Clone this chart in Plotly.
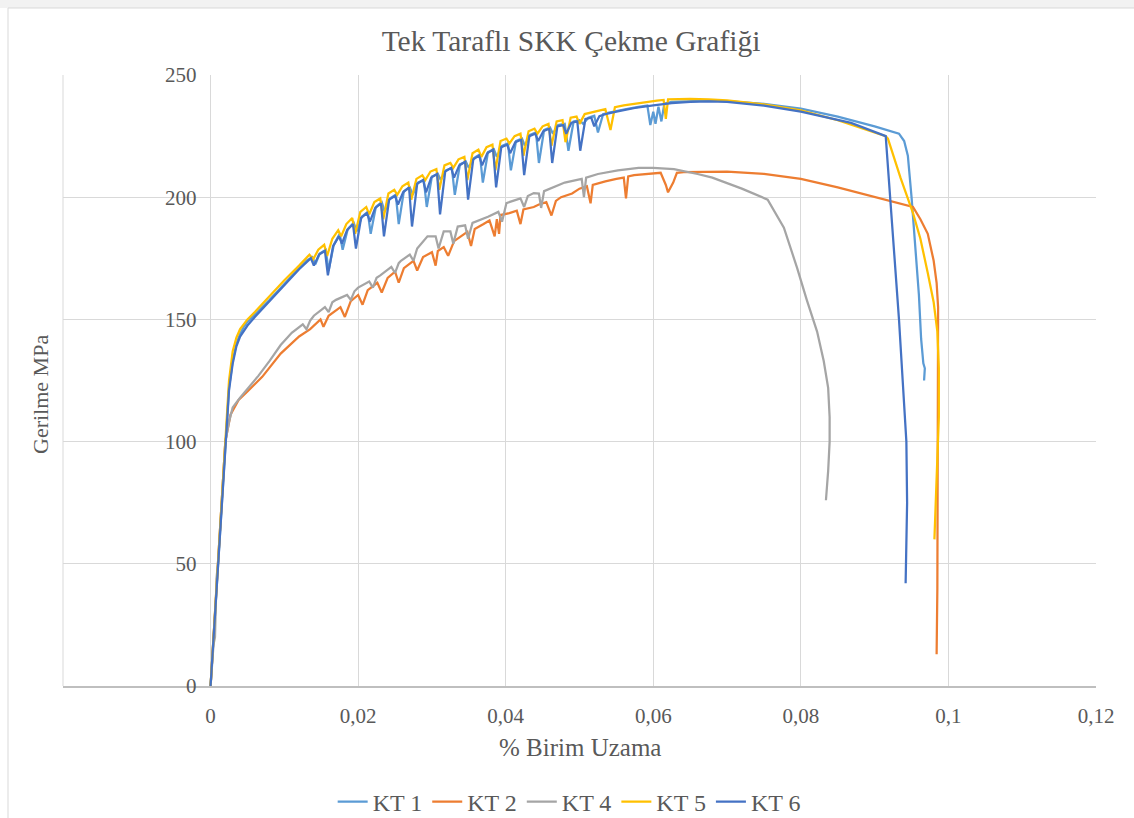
import plotly.graph_objects as go

# Tensile test curves: strain (% Birim Uzama) vs stress (Gerilme, MPa)
kt1_strain = [0, 0.0005, 0.001, 0.0015, 0.002, 0.0025, 0.003, 0.0035, 0.004, 0.0045, 0.005, 0.006, 0.008, 0.010, 0.0115,
              0.013, 0.0138, 0.0142, 0.0148, 0.0156, 0.016, 0.0167, 0.0175, 0.0179, 0.0186, 0.0194, 0.0198, 0.0205, 0.0213,
              0.0217, 0.0224, 0.0232, 0.0236, 0.0243, 0.0251, 0.0255, 0.0262, 0.027, 0.0274, 0.0281, 0.0289, 0.0293, 0.03,
              0.0308, 0.0312, 0.0319, 0.0327, 0.0331, 0.0338, 0.0346, 0.035, 0.0357, 0.0365, 0.0369, 0.0376, 0.0384, 0.0388,
              0.0395, 0.0403, 0.0407, 0.0414, 0.0422, 0.0426, 0.0433, 0.0441, 0.0445, 0.0452, 0.046, 0.0464, 0.0471, 0.048,
              0.0485, 0.0492, 0.05, 0.0505, 0.0512, 0.052, 0.0525, 0.0532, 0.054, 0.055, 0.0565, 0.058, 0.0592, 0.0596, 0.06,
              0.0603, 0.0607, 0.0611, 0.0615, 0.0625, 0.065, 0.0675, 0.07, 0.075, 0.08, 0.085, 0.09, 0.0933, 0.094, 0.0945,
              0.095, 0.0955, 0.096, 0.0963, 0.0966, 0.0968, 0.0967]
kt1_stress = [0, 25, 50, 75, 100, 122, 133, 140, 144, 147, 149, 152, 158, 164.5, 169.5,
              174, 175.5, 172.5, 177, 178.5, 170, 180.5, 185, 178.5, 187, 189.5, 186, 192, 194,
              185, 196, 198, 194, 199.5, 201, 189, 202.5, 204, 201, 206, 207, 196, 208.5,
              209.5, 207, 211, 212, 201, 213.5, 214.5, 212, 216, 217.5, 206, 218.5, 219.5, 216.5,
              221, 222, 211, 223, 224, 221, 225.5, 226.5, 214, 227.5, 228.5, 226, 229.5, 230,
              219, 231, 231.5, 230, 232.5, 233.3, 226.5, 234, 234.6, 235.3, 236.2, 237, 237.5, 229.5, 235,
              230, 237, 231, 238.3, 239, 239.4, 239.5, 239.3, 238.2, 236.2, 233, 229, 226, 223, 217,
              200, 180, 160, 142, 132, 130, 125]

kt2_strain = [0, 0.0005, 0.001, 0.0015, 0.002, 0.0027, 0.0038, 0.005, 0.007, 0.0095, 0.012, 0.0135, 0.0149, 0.0153,
              0.016, 0.0176, 0.0182, 0.019, 0.02, 0.0206, 0.0213, 0.0226, 0.0232, 0.024, 0.025, 0.0255, 0.0262, 0.0275,
              0.028, 0.0288, 0.03, 0.0305, 0.0308, 0.0316, 0.0322, 0.033, 0.034, 0.0348, 0.0353, 0.0358, 0.037, 0.0378,
              0.0385, 0.0388, 0.0391, 0.0393, 0.0405, 0.0415, 0.042, 0.0424, 0.0438, 0.0445, 0.0455, 0.0462, 0.0468,
              0.0475, 0.049, 0.05, 0.051, 0.0515, 0.0518, 0.0535, 0.055, 0.056, 0.0563, 0.0566, 0.0574, 0.059, 0.061,
              0.0617, 0.062, 0.0627, 0.0632, 0.0641, 0.07, 0.075, 0.08, 0.085, 0.09, 0.0926, 0.0952, 0.0962, 0.0972,
              0.098, 0.0984, 0.0986, 0.0986, 0.0986, 0.0985, 0.0984]
kt2_stress = [0, 24, 50, 75, 100, 111, 117, 120.5, 126.5, 136, 143, 146, 150, 147,
              151.5, 155, 151, 157.5, 160, 156, 162, 165, 161, 167, 169.5, 165, 171, 174,
              170, 175.5, 177.5, 172, 178, 179.6, 176, 182, 184, 185.8, 180, 187, 189, 190.5,
              184, 191, 185, 192.7, 193.5, 194.5, 189, 195, 196, 197, 198, 192.5, 198.5,
              200, 201.5, 203.5, 204.5, 197.5, 205, 206.5, 207.5, 208, 199.5, 208.5, 209, 209.5, 210,
              205, 202, 206, 210, 210.3, 210.5, 209.5, 207.5, 204, 200, 198, 196, 191, 185,
              174, 165, 155, 120, 80, 40, 13]

kt4_strain = [0, 0.0002, 0.0004, 0.0006, 0.0007, 0.0008, 0.001, 0.0015, 0.002, 0.0025, 0.003, 0.004, 0.005, 0.0065,
              0.008, 0.0095, 0.011, 0.0125, 0.013, 0.0135, 0.014, 0.0155, 0.016, 0.0165, 0.017, 0.0185, 0.019, 0.0195,
              0.02, 0.0215, 0.022, 0.0225, 0.023, 0.0245, 0.025, 0.0255, 0.0258, 0.027, 0.0275, 0.028, 0.0294, 0.0305,
              0.0309, 0.0316, 0.0325, 0.0329, 0.0335, 0.0345, 0.0349, 0.0355, 0.0376, 0.039, 0.0395, 0.0401, 0.042,
              0.0425, 0.043, 0.0438, 0.0445, 0.0448, 0.0452, 0.0465, 0.048, 0.0503, 0.0506, 0.0509, 0.0525, 0.0552,
              0.058, 0.06, 0.0628, 0.066, 0.068, 0.072, 0.0755, 0.0777, 0.0795, 0.0808, 0.0822, 0.0831, 0.0837, 0.0839,
              0.0839, 0.0837, 0.0835, 0.0834]
kt4_stress = [0, 10, 17, 20, 30, 44, 50, 75, 100, 108, 114, 118, 121.5, 127,
              133, 139.5, 144.5, 148, 146, 149.5, 151.5, 155, 153, 157, 158, 160, 158, 161.5,
              163, 165.5, 163, 167, 168, 171.5, 169, 173, 174, 176.5, 174, 179, 184, 184,
              179, 186, 186, 181, 188, 188.5, 183, 189.5, 192, 194, 190, 197.6, 199.5,
              196, 200.5, 201.7, 201.5, 195.6, 202.5, 204, 206, 207.5, 200, 208, 209.5, 211,
              212, 212, 211.5, 209.5, 208, 203.5, 199, 187.5, 171, 158, 145, 133, 122, 110,
              100, 88, 80, 76]

kt5_strain = [0, 0.0005, 0.001, 0.0015, 0.002, 0.0025, 0.003, 0.0035, 0.004, 0.005, 0.006, 0.008, 0.01, 0.012,
              0.0134, 0.0139, 0.0146, 0.0154, 0.0158, 0.0165, 0.0173, 0.0177, 0.0184, 0.0192, 0.0196, 0.0203, 0.0211,
              0.0215, 0.0222, 0.023, 0.0234, 0.0241, 0.0249, 0.0253, 0.026, 0.0268, 0.0272, 0.0279, 0.0287, 0.0291,
              0.0298, 0.0306, 0.031, 0.0317, 0.0325, 0.0329, 0.0336, 0.0344, 0.0348, 0.0355, 0.0363, 0.0367, 0.0374,
              0.0382, 0.0386, 0.0393, 0.0401, 0.0405, 0.0412, 0.042, 0.0424, 0.0431, 0.0439, 0.0443, 0.045, 0.0458,
              0.0462, 0.0469, 0.0477, 0.0481, 0.0488, 0.0496, 0.05, 0.0507, 0.0515, 0.0525, 0.0535, 0.0542, 0.0548,
              0.056, 0.0575, 0.059, 0.0605, 0.0614, 0.0617, 0.062, 0.065, 0.0675, 0.07, 0.075, 0.08, 0.085, 0.0915,
              0.0918, 0.0935, 0.0952, 0.0962, 0.0972, 0.098, 0.0985, 0.0987, 0.0987, 0.0985, 0.0982, 0.0981]
kt5_stress = [0, 25, 50, 76, 102, 125, 137, 142.5, 146, 150, 153, 159.5, 166, 172,
              176.5, 174.5, 178.5, 180.5, 176, 183, 186.5, 184, 189, 191.5, 185, 194, 196,
              193, 198, 199.5, 191, 201.5, 203, 201, 204.5, 206, 199, 207.5, 209, 207,
              210.5, 211.5, 203, 213, 214, 212, 215.5, 216.5, 207, 218, 219.5, 216.5, 220.5,
              221.5, 211, 223, 224, 222, 225, 226, 217, 227, 228, 226, 229, 230,
              221, 231, 231.5, 222.5, 232.5, 233, 230, 234, 234.6, 235.3, 236, 227.5, 236.8,
              237.6, 238.3, 239, 239.5, 239.8, 232, 240, 240.2, 240, 239.6, 238, 235.5, 231.5, 225,
              224, 208, 193.5, 183, 169, 157, 145, 130, 110, 90, 70, 60]

kt6_strain = [0, 0.0005, 0.001, 0.0015, 0.002, 0.0025, 0.003, 0.0035, 0.004, 0.005, 0.006, 0.008, 0.01, 0.012,
              0.0136, 0.014, 0.0147, 0.0155, 0.0159, 0.0166, 0.0174, 0.0178, 0.0185, 0.0193, 0.0197, 0.0204, 0.0212,
              0.0216, 0.0223, 0.0231, 0.0235, 0.0242, 0.025, 0.0254, 0.0261, 0.0269, 0.0273, 0.028, 0.0288, 0.0292,
              0.0299, 0.0307, 0.0311, 0.0318, 0.0326, 0.033, 0.0337, 0.0345, 0.0349, 0.0356, 0.0364, 0.0368, 0.0375,
              0.0383, 0.0387, 0.0394, 0.0402, 0.0406, 0.0413, 0.0421, 0.0425, 0.0432, 0.044, 0.0444, 0.0451, 0.0459,
              0.0463, 0.047, 0.0478, 0.0482, 0.0489, 0.0497, 0.0501, 0.0508, 0.0516, 0.052, 0.0527, 0.0535, 0.055,
              0.0575, 0.06, 0.0625, 0.065, 0.0675, 0.07, 0.075, 0.08, 0.0868, 0.0915, 0.092, 0.0925, 0.093, 0.0933,
              0.0938, 0.0943, 0.0944, 0.0943, 0.0942]
kt6_stress = [0, 25, 50, 75, 100, 121, 132, 139, 143, 147.5, 151, 157.5, 164, 170.5,
              175, 172, 176.5, 178, 168, 180, 184, 181, 186.5, 189, 179, 191.5, 193.5,
              190, 195.5, 197.5, 184, 199, 200.5, 197, 202, 204, 188, 205.5, 207, 202,
              208, 209.5, 193, 210.5, 212, 208, 213, 214.5, 199, 215.5, 217, 213, 218,
              219.5, 204, 220.5, 221.5, 218, 222.5, 223.5, 209, 225, 226, 223, 227, 228,
              214, 229, 229.5, 226, 230.5, 231, 219, 232, 232.5, 229, 233.2, 234, 235,
              236.5, 237.6, 238.5, 239, 239.2, 239, 237.5, 235, 230.4, 225, 205, 185, 165, 150,
              125, 100, 75, 50, 42]

series_names = ["KT 1", "KT 2", "KT 4", "KT 5", "KT 6"]
series_x = [kt1_strain, kt2_strain, kt4_strain, kt5_strain, kt6_strain]
series_y = [kt1_stress, kt2_stress, kt4_stress, kt5_stress, kt6_stress]
series_colors = ["#5B9BD5", "#ED7D31", "#A5A5A5", "#FFC000", "#4472C4"]

x_tick_vals = [0, 0.02, 0.04, 0.06, 0.08, 0.1, 0.12]
x_tick_text = ["0", "0,02", "0,04", "0,06", "0,08", "0,1", "0,12"]
y_tick_vals = [0, 50, 100, 150, 200, 250]
y_tick_text = ["0", "50", "100", "150", "200", "250"]

FONT = "Liberation Serif, Times New Roman, serif"
TEXT_GRAY = "#595959"
GRID = "#d9d9d9"

fig = go.Figure()
for name, xs, ys, color in zip(series_names, series_x, series_y, series_colors):
    fig.add_trace(go.Scatter(x=xs, y=ys, mode="lines", name=name,
                             line=dict(color=color, width=2.25)))

# Plot area spans pixels 63..1096 horizontally and 75..686 vertically
plot_l, plot_r, plot_t, plot_b = 63, 1096, 75, 686
W, H = 1134, 818
plot_w = plot_r - plot_l
plot_h = plot_b - plot_t

x_min, x_max = -0.02, 0.12
y_axis_pos = (0 - x_min) / (x_max - x_min)

fig.update_layout(
    width=W, height=H,
    margin=dict(l=plot_l, r=W - plot_r, t=plot_t, b=H - plot_b, pad=0, autoexpand=False),
    paper_bgcolor="white", plot_bgcolor="white",
    font=dict(family=FONT, color=TEXT_GRAY, size=21),
    showlegend=True,
    legend=dict(orientation="h", x=0.49, xanchor="center", y=(plot_b - 802) / plot_h, yanchor="middle",
                font=dict(family=FONT, size=24, color=TEXT_GRAY), itemwidth=30,
                bgcolor="rgba(0,0,0,0)"),
    title=dict(text="Tek Taraflı SKK Çekme Grafiği", x=(571 - plot_l) / plot_w, xanchor="center",
               y=1 - 41 / H, yanchor="middle", xref="paper",
               font=dict(family=FONT, size=29.5, color=TEXT_GRAY)),
    xaxis=dict(range=[x_min, x_max], tickvals=x_tick_vals, ticktext=x_tick_text,
               showgrid=True, gridcolor=GRID, gridwidth=1, zeroline=False,
               showline=True, linecolor="#bfbfbf", linewidth=1.5, ticks="",
               ticklabelstandoff=10, tickfont=dict(size=21)),
    yaxis=dict(range=[0, 250], tickvals=y_tick_vals, ticktext=y_tick_text,
               anchor="free", position=y_axis_pos,
               showgrid=True, gridcolor=GRID, gridwidth=1, zeroline=False,
               showline=False, ticks="", ticklabelstandoff=14, tickfont=dict(size=21)),
    annotations=[
        dict(text="% Birim Uzama", xref="paper", yref="paper", x=0.5, y=(plot_b - 747) / plot_h,
             xanchor="center", yanchor="middle", showarrow=False,
             font=dict(family=FONT, size=25, color=TEXT_GRAY)),
        dict(text="Gerilme MPa", xref="paper", yref="paper", x=(40 - plot_l) / plot_w, y=(plot_b - 395) / plot_h,
             xanchor="center", yanchor="middle", textangle=-90, showarrow=False,
             font=dict(family=FONT, size=22, color=TEXT_GRAY)),
    ],
    shapes=[
        # light band along the top edge of the page
        dict(type="rect", xref="paper", yref="paper",
             x0=(0 - plot_l) / plot_w, x1=(W + 20 - plot_l) / plot_w,
             y0=(plot_b - 8) / plot_h, y1=(plot_b + 20) / plot_h,
             line=dict(width=0), fillcolor="#f2f2f2", layer="below"),
        # chart frame
        dict(type="rect", xref="paper", yref="paper",
             x0=(8 - plot_l) / plot_w, x1=(W + 20 - plot_l) / plot_w,
             y0=(plot_b - H - 20) / plot_h, y1=(plot_b - 8) / plot_h,
             line=dict(color="#d9d9d9", width=1), fillcolor="rgba(0,0,0,0)", layer="below"),
        # left border of plot area
        dict(type="line", xref="paper", yref="paper", x0=0, x1=0, y0=0, y1=1,
             line=dict(color=GRID, width=1)),
    ],
)

fig.write_html("out.html")
